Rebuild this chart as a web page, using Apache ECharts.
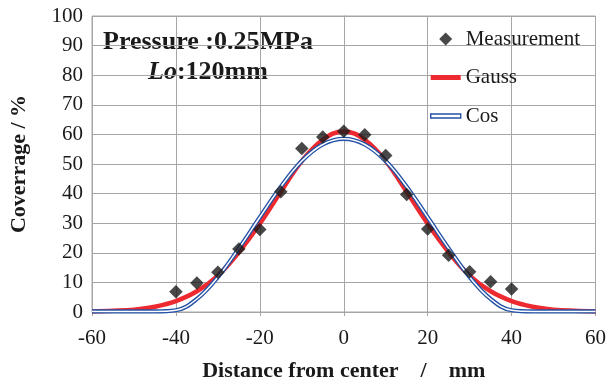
<!DOCTYPE html>
<html>
<head>
<meta charset="utf-8">
<script src="https://cdn.jsdelivr.net/npm/echarts@6/dist/echarts.min.js"></script>
<style>
html,body{margin:0;padding:0;background:#fff;}
#chart{width:609px;height:387px;}
</style>
</head>
<body>
<div id="chart"></div>
<script>
// Measurement points
var measX = [-40, -35, -30, -25, -20, -15, -10, -5, 0, 5, 10, 15, 20, 25, 30, 35, 40];
var measY = [6.8, 9.8, 13.4, 21.3, 27.9, 40.6, 55.2, 59.1, 61.1, 59.9, 52.9, 39.7, 28.0, 19.2, 13.6, 10.2, 7.8];

// Fitted curves, read every 5 mm
var curveX = [-60, -55, -50, -45, -40, -35, -30, -25, -20, -15, -10, -5, 0, 5, 10, 15, 20, 25, 30, 35, 40, 45, 50, 55, 60];
var gaussY = [0.2, 0.4, 0.8, 1.8, 3.7, 7.0, 12.3, 20.2, 29.8, 40.6, 51.0, 58.2, 61.0, 58.2, 51.0, 40.6, 29.8, 20.2, 12.3, 7.0, 3.7, 1.8, 0.8, 0.4, 0.2];
var cosY = [0.2, 0.2, 0.2, 0.2, 0.6, 4.4, 11.8, 21.5, 32.0, 42.3, 51.0, 56.6, 58.5, 56.6, 51.0, 42.3, 32.0, 21.5, 11.8, 4.4, 0.6, 0.2, 0.2, 0.2, 0.2];

// Axis ticks
var xTicks = {min: -60, max: 60, interval: 20};
var yTicks = {min: 0, max: 100, interval: 10};

function pairs(xs, ys) { return xs.map(function (x, i) { return [x, ys[i]]; }); }

var RED = '#ec2a30';
var BLUE = '#2452a6';
var GRID = '#a6a6a6';
var FONT = '"Liberation Serif", "Times New Roman", serif';

var chart = echarts.init(document.getElementById('chart'), null, {renderer: 'canvas'});
chart.setOption({
  animation: false,
  backgroundColor: '#fff',
  grid: {left: 90, right: 12, top: 16, bottom: 74, show: true, borderColor: GRID, borderWidth: 1},
  xAxis: {
    type: 'value', min: xTicks.min, max: xTicks.max, interval: xTicks.interval,
    name: 'Distance from center    /    mm', nameLocation: 'middle', nameGap: 48,
    nameTextStyle: {fontFamily: FONT, fontWeight: 'bold', fontSize: 22, color: '#1a1a1a'},
    axisLine: {show: true, lineStyle: {color: GRID, width: 1}},
    axisTick: {show: true, length: 4, lineStyle: {color: GRID}},
    axisLabel: {fontFamily: FONT, fontSize: 21, color: '#1a1a1a', margin: 16},
    splitLine: {show: true, lineStyle: {color: GRID, width: 1}}
  },
  yAxis: {
    type: 'value', min: yTicks.min, max: yTicks.max, interval: yTicks.interval,
    name: 'Coverrage / %', nameLocation: 'middle', nameGap: 62,
    nameTextStyle: {fontFamily: FONT, fontWeight: 'bold', fontSize: 22, color: '#1a1a1a'},
    axisLine: {show: true, lineStyle: {color: GRID, width: 1}},
    axisTick: {show: true, length: 4, lineStyle: {color: GRID}},
    axisLabel: {fontFamily: FONT, fontSize: 21, color: '#1a1a1a', margin: 9},
    splitLine: {show: true, lineStyle: {color: GRID, width: 1}}
  },
  legend: {
    orient: 'vertical', left: 425, top: 23,
    itemWidth: 30, itemHeight: 13, itemGap: 16.5,
    textStyle: {fontFamily: FONT, fontSize: 21, color: '#1a1a1a', lineHeight: 22},
    data: [
      {name: 'Measurement', icon: 'path://M5,0L10,5L5,10L0,5Z'},
      {name: 'Gauss', icon: 'path://M0,0h30v5h-30z', itemStyle: {color: RED}},
      {name: 'Cos', icon: 'path://M0,0h30v4h-30z', itemStyle: {color: '#fff', borderColor: BLUE, borderWidth: 1.4}}
    ]
  },
  graphic: [
    {type: 'text', left: 103, top: 29, silent: true,
     style: {text: 'Pressure :0.25MPa', font: 'bold 26px ' + FONT, fill: '#1a1a1a'}},
    {type: 'text', left: 148, top: 59, silent: true,
     style: {text: '{i|Lo}{b|:120mm}', font: 'bold 26px ' + FONT, fill: '#1a1a1a',
       rich: {i: {fontFamily: FONT, fontStyle: 'italic', fontWeight: 'bold', fontSize: 26, fill: '#1a1a1a'},
              b: {fontFamily: FONT, fontWeight: 'bold', fontSize: 26, fill: '#1a1a1a'}}}}
  ],
  series: [
    {name: 'Gauss', type: 'line', data: pairs(curveX, gaussY), smooth: 0.4, symbol: 'none',
     lineStyle: {color: RED, width: 4.5}, itemStyle: {color: RED}, z: 2},
    {name: 'Cos', type: 'line', data: pairs(curveX, cosY), smooth: 0.4, symbol: 'none',
     lineStyle: {color: BLUE, width: 4.2}, itemStyle: {color: BLUE}, z: 3},
    {name: 'CosCore', type: 'line', data: pairs(curveX, cosY), smooth: 0.4, symbol: 'none',
     lineStyle: {color: '#fff', width: 1.5}, itemStyle: {color: '#fff'}, z: 4},
    {name: 'Measurement', type: 'scatter', data: pairs(measX, measY), symbol: 'diamond', symbolSize: 13.5,
     itemStyle: {color: '#1a1a1a'}, z: 5}
  ]
});
</script>
</body>
</html>
